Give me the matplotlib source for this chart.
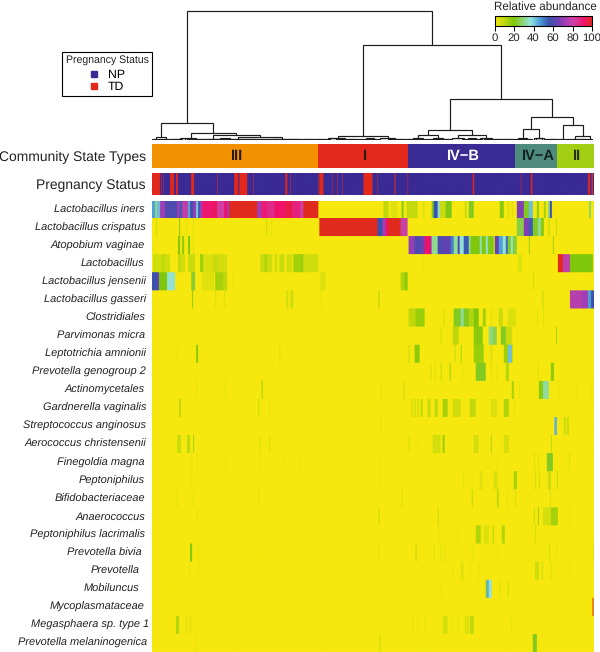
import numpy as np
import matplotlib
matplotlib.use("Agg")
import matplotlib.pyplot as plt
from matplotlib.colors import LinearSegmentedColormap, ListedColormap, Normalize
from matplotlib.cm import ScalarMappable
from matplotlib.lines import Line2D
from matplotlib.transforms import blended_transform_factory

plt.rcParams["font.family"] = ["Liberation Sans", "DejaVu Sans"]
plt.rcParams["text.hinting"] = "no_hinting"

FIG_W, FIG_H = 600, 652
N_SAMPLES = 441
SUB = 2  # image columns per sample, so thin stripes blend like in the print

# Community state types, in sample order
cst_names = ["III", "I", "IV\u2212B", "IV\u2212A", "II"]
cst_sizes = [166, 90, 107, 42, 36]
cst_colors = ["#F39200", "#E2281B", "#3A2A94", "#4E8B7E", "#A3CF12"]
cst_text_colors = ["#2a1a10", "#2a1a10", "white", "#12231f", "#26300a"]

# Samples with pregnancy status TD (everything else is NP)
status_td = [(0, 8), (9, 9.5), (11, 11.5), (18, 22), (24, 26), (39, 42), (65, 65.5),
             (82, 86), (87, 95), (101, 101.5), (133, 135), (138, 138.5), (166, 166.5),
             (167, 171), (180, 180.5), (185, 185.5), (190, 190.5), (211, 220), (225, 225.5),
             (242, 243), (255, 255.5), (320, 321.5), (368, 368.5), (378, 379.5), (435, 437),
             (438.5, 440)]

# Relative abundance per taxon: (first sample, last sample, percent)
lactobacillus_iners = [(0, 3, 46), (3, 5, 30), (5, 8, 42), (8, 13, 72), (13, 25, 60), (25, 28, 70),
                       (28, 30, 55), (30, 36, 78), (36, 38, 45), (38, 41, 58), (41, 44, 70), (44, 46, 40),
                       (46, 48, 55), (48, 50, 72), (50, 60, 91), (60, 65, 93), (65, 72, 82), (72, 75, 92),
                       (75, 77, 72), (77, 105, 100), (105, 109, 72), (109, 115, 90), (115, 122, 86),
                       (122, 133, 92), (133, 140, 95), (140, 148, 88), (148, 151, 82), (151, 166, 100),
                       (231, 236, 10), (238, 245, 4), (249, 251, 22), (254, 265, 9), (270, 272, 4),
                       (279, 281, 22), (281, 285, 56), (285, 287, 38), (287, 293, 8), (293, 299, 21),
                       (312, 314, 8), (316, 321, 22), (347, 351, 18), (355, 356, 8), (359, 360, 6),
                       (364, 371, 68), (371, 376, 22), (376, 380, 42), (384, 386, 18), (391, 393, 14),
                       (395, 397, 30), (397, 399, 56), (436, 438, 28)]
lactobacillus_crispatus = [(4, 5, 8), (27, 28, 18), (34, 35, 4), (41, 42, 4), (114, 115, 8), (119, 120, 3),
                           (167, 225, 100), (225, 230, 56), (230, 233, 72), (233, 236, 93), (236, 248, 100),
                           (248, 255, 80), (364, 371, 25), (371, 376, 68), (376, 380, 55), (380, 385, 22),
                           (385, 388, 32), (388, 391, 18), (395, 397, 6), (403, 404, 8)]
atopobium_vaginae = [(26, 28, 20), (30, 32, 18), (36, 38, 20), (41, 42, 4), (256, 262, 70), (262, 268, 60),
                     (268, 272, 66), (272, 278, 92), (278, 279, 70), (279, 285, 31), (285, 290, 60),
                     (290, 298, 63), (298, 301, 50), (301, 305, 32), (305, 307, 60), (307, 311, 36),
                     (311, 316, 55), (316, 318, 30), (318, 327, 20), (327, 329, 34), (329, 333, 20),
                     (333, 335, 36), (335, 341, 21), (342, 346, 64), (346, 350, 46), (350, 353, 36),
                     (353, 355, 52), (355, 358, 22), (358, 360, 36), (360, 364, 24), (376, 377, 15),
                     (400, 401, 15)]
lactobacillus = [(1, 5, 7), (5, 9, 6), (9, 13, 9), (13, 18, 7), (26, 29, 9), (29, 33, 6), (36, 43, 8),
                 (48, 51, 16), (51, 61, 5), (61, 66, 8), (66, 75, 6), (108, 112, 8), (112, 115, 12), (115, 120, 7),
                 (122, 125, 6), (127, 132, 8), (134, 140, 6), (141, 148, 14), (148, 151, 16), (151, 166, 7),
                 (270, 271, 3), (365, 369, 4), (405, 410, 100), (410, 417, 78), (417, 440, 20)]
lactobacillus_jensenii = [(0, 5, 56), (5, 7, 63), (7, 15, 20), (15, 23, 36), (39, 40, 14), (40, 43, 24),
                          (50, 62, 4), (63, 71, 14), (71, 75, 10), (81, 82, 4), (168, 173, 5), (248, 252, 12),
                          (252, 255, 18), (380, 381, 6)]
lactobacillus_gasseri = [(40, 41, 18), (63, 64, 5), (72, 73, 5), (134, 136, 6), (138, 141, 7), (168, 169, 3),
                         (226, 227, 12), (390, 391, 5), (389, 390, 6), (417, 429, 76), (429, 435, 72),
                         (435, 438, 46), (438, 441, 56)]
clostridiales = [(256, 263, 10), (263, 272, 16), (291, 292, 6), (301, 308, 22), (308, 311, 32), (311, 316, 22),
                 (316, 321, 12), (321, 326, 20), (330, 333, 14), (338, 339, 4), (346, 350, 8), (355, 363, 5),
                 (384, 385, 4), (390, 391, 4)]
parvimonas_micra = [(288, 289, 6), (300, 306, 10), (321, 330, 18), (336, 340, 30), (340, 344, 26),
                    (348, 353, 22), (353, 359, 8), (403, 404, 14), (364, 365, 2)]
leptotrichia_amnionii = [(44, 46, 18), (25, 26, 3), (127, 128, 5), (256, 257, 8), (262, 267, 18), (302, 303, 8),
                         (308, 309, 14), (321, 331, 16), (338, 339, 8), (351, 355, 15), (355, 359, 42),
                         (359, 360, 10)]
prevotella_genogroup_2 = [(278, 279, 5), (282, 283, 5), (288, 289, 10), (297, 298, 16), (310, 311, 3),
                          (323, 333, 22), (338, 339, 4), (344, 345, 4), (353, 356, 12), (385, 386, 4),
                          (398, 401, 18)]
actinomycetales = [(44, 45, 4), (73, 74, 4), (109, 111, 8), (228, 229, 4), (251, 252, 8), (359, 361, 14),
                   (366, 367, 3), (386, 390, 18), (390, 396, 32), (405, 406, 3), (423, 424, 2), (438, 439, 2)]
gardnerella_vaginalis = [(27, 29, 10), (106, 107, 8), (117, 118, 3), (259, 260, 9), (262, 263, 9), (265, 266, 9),
                         (268, 270, 9), (275, 278, 8), (282, 285, 10), (290, 295, 14), (300, 308, 7),
                         (317, 323, 10), (338, 344, 5), (351, 356, 12), (361, 362, 4)]
streptococcus_anginosus = [(228, 229, 3), (401.5, 404, 44), (411, 413, 8), (414, 416, 8)]
aerococcus_christensenii = [(25, 29, 8), (35, 38, 10), (41, 42, 14), (107, 108, 5), (117, 118, 6), (256, 257, 6),
                            (265, 266, 3), (280, 288, 6), (290, 292, 16), (321, 326, 6), (338, 339, 12),
                            (351, 356, 6), (398, 399, 10)]
finegoldia_magna = [(39, 40, 3), (45, 46, 3), (73, 74, 3), (108, 109, 3), (130, 131, 2), (148, 149, 2),
                    (228, 229, 2), (344, 345, 2), (381, 382, 5), (385, 386, 5), (394, 400, 22), (416, 417, 5)]
peptoniphilus = [(39, 40, 2), (228, 229, 2), (310, 311, 4), (327, 330, 4), (341, 345, 5), (361, 364, 14),
                 (382, 383, 7), (386, 387, 7), (395, 398, 8), (404, 405, 10)]
bifidobacteriaceae = [(25, 26, 4), (41, 42, 4), (106, 107, 4), (249, 250, 5), (319, 320, 10), (344, 346, 10),
                      (354, 355, 4), (362, 363, 6), (397, 398, 5)]
anaerococcus = [(45, 46, 3), (226, 227, 8), (285, 286, 8), (381, 382, 8), (385, 386, 16), (390, 398, 6),
                (398, 405, 14), (416, 417, 3)]
peptoniphilus_lacrimalis = [(286, 287, 3), (305, 306, 3), (323, 328, 12), (331, 336, 5), (340, 341, 12),
                            (349, 352, 12), (382, 383, 6)]
prevotella_bivia = [(38, 40, 20), (45, 46, 3), (226, 227, 4), (263, 264, 10), (281, 282, 5), (288, 289, 5),
                    (292, 293, 5), (320, 321, 4), (345, 346, 2), (396, 397, 6), (403, 404, 3), (440, 441, 3)]
prevotella = [(37, 38, 2), (46, 47, 2), (300, 301, 3), (308, 311, 4), (317, 318, 3), (326, 327, 3), (382, 386, 7),
              (389, 390, 8), (398, 399, 5), (416, 417, 2)]
mobiluncus = [(288, 289, 2), (333, 334, 22), (334, 336, 44), (336, 339, 36), (347, 348, 4), (355, 356, 7)]
mycoplasmataceae = [(439.5, 440.5, 100)]
megasphaera_type_1 = [(24, 27, 12), (34, 35, 5), (38, 39, 5), (260, 261, 3), (265, 266, 3), (272, 273, 3),
                      (290, 295, 6), (299, 300, 4), (305, 306, 4), (312, 316, 5), (317, 321, 10), (358, 359, 3)]
prevotella_melaninogenica = [(44, 45, 3), (227, 228, 8), (380, 384, 22)]

taxa = ["Lactobacillus iners", "Lactobacillus crispatus", "Atopobium vaginae", "Lactobacillus",
        "Lactobacillus jensenii", "Lactobacillus gasseri", "Clostridiales", "Parvimonas micra",
        "Leptotrichia amnionii", "Prevotella genogroup 2", "Actinomycetales", "Gardnerella vaginalis",
        "Streptococcus anginosus", "Aerococcus christensenii", "Finegoldia magna", "Peptoniphilus",
        "Bifidobacteriaceae", "Anaerococcus", "Peptoniphilus lacrimalis", "Prevotella bivia", "Prevotella",
        "Mobiluncus", "Mycoplasmataceae", "Megasphaera sp. type 1", "Prevotella melaninogenica"]
taxon_runs = [lactobacillus_iners, lactobacillus_crispatus, atopobium_vaginae, lactobacillus,
              lactobacillus_jensenii, lactobacillus_gasseri, clostridiales, parvimonas_micra,
              leptotrichia_amnionii, prevotella_genogroup_2, actinomycetales, gardnerella_vaginalis,
              streptococcus_anginosus, aerococcus_christensenii, finegoldia_magna, peptoniphilus,
              bifidobacteriaceae, anaerococcus, peptoniphilus_lacrimalis, prevotella_bivia, prevotella,
              mobiluncus, mycoplasmataceae, megasphaera_type_1, prevotella_melaninogenica]

# Dendrogram: merge = (height, left, right), a plain number is a sample
cluster_three = (17,
                 (3, 4, 14),
                 (7,
                  (2, 33, 44),
                  (5,
                   (1.5, 55, 67),
                   (3.5, (1.5, 80, 91), (1.5, 118, 141)))))
cluster_one = (4.5, (2, 178, 193), (2, 228, 243))
cluster_four_b = (10,
                  (5, (2, 261, 271), (2, 281, 291)),
                  (5, (2, 300, 312), (2, 328, 340)))
cluster_rest = (23,
                (11, (2, 366, 375), (2, 382, 392)),
                (15, (1.5, 408, 414), (4, (1, 421, 425), (1, 436, 440))))
tree = (129, cluster_three, (95, cluster_one, (41.5, cluster_four_b, cluster_rest)))

# Small merges near the bottom of the tree
low_merges = [(1.2, 0, 5), (1.5, 6, 13), (0.8, 12, 30), (1.2, 20, 27), (1.6, 28, 35), (1, 36, 50), (1.4, 44, 54),
              (0.8, 50, 75), (1.2, 60, 66), (1.6, 68, 78), (0.9, 75, 100), (1.3, 92, 104), (0.8, 100, 125),
              (1.2, 108, 117), (1.5, 122, 132), (0.9, 128, 150), (1.3, 140, 148), (1.2, 152, 160), (0.8, 150, 178),
              (1.2, 165, 173), (1.6, 176, 184), (0.9, 185, 205), (1.4, 196, 204), (1, 205, 228), (1.6, 214, 222),
              (1, 236, 262), (1.5, 243, 252), (0.8, 255, 268), (1.3, 268, 278), (1, 278, 300), (1.5, 290, 298),
              (1, 310, 330), (1.6, 316, 324), (0.9, 332, 362), (1.5, 342, 350), (1.3, 352, 360), (1, 362, 380),
              (1.5, 372, 378), (1.6, 384, 390), (1, 392, 410), (1.3, 398, 405), (1, 414, 436), (1.4, 426, 434)]

# Legend colour bar ticks and colour stops of the abundance scale
abundance_ticks = [0, 20, 40, 60, 80, 100]
abundance_stops = [(0, "#F6E80E"), (0.09, "#C3DA0C"), (0.2, "#7FC70A"), (0.28, "#8ED468"), (0.37, "#93E3E0"),
                   (0.46, "#4FA0D8"), (0.56, "#3A52AE"), (0.65, "#6A40B2"), (0.72, "#A03FB6"), (0.82, "#D23FA2"),
                   (0.92, "#F0126C"), (1, "#E02A1E")]
abundance_cmap = LinearSegmentedColormap.from_list("abundance", abundance_stops)
abundance_norm = Normalize(0, 100)
status_cmap = ListedColormap(["#3A2A94", "#E2281B"])

# Right end of each row label in pixels, the print does not align them exactly
label_right = [145, 146, 145, 144, 146, 146, 145, 145, 146, 146, 145, 146,
               146, 146, 145, 145, 145, 145, 145, 142, 140, 139, 144, 149, 146.7]


def px_axes(fig, left, top, right, bottom):
    # axes box given in picture pixels, measured from the top left
    ax = fig.add_axes([left / FIG_W, 1 - bottom / FIG_H, (right - left) / FIG_W, (bottom - top) / FIG_H])
    return ax


def runs_to_row(runs, value=None):
    row = np.zeros(N_SAMPLES * SUB)
    for run in runs:
        row[int(run[0] * SUB):int(run[1] * SUB)] = run[2] if value is None else value
    return row


def draw_node(ax, node, color="#1c1c1c", lw=0.85):
    # returns x position and height of the node
    if not isinstance(node, tuple):
        return node, 0.3
    h, left, right = node
    xl, hl = draw_node(ax, left, color, lw)
    xr, hr = draw_node(ax, right, color, lw)
    ax.plot([xl, xl, xr, xr], [hl, h, h, hr], color=color, lw=lw, solid_joinstyle="miter")
    return (xl + xr) / 2, h


fig = plt.figure(figsize=(FIG_W / 100, FIG_H / 100), dpi=100)

# Dendrogram
ax_tree = px_axes(fig, 152, 0, 593, 140)
draw_node(ax_tree, tree)
for merge in low_merges:
    draw_node(ax_tree, merge)
ax_tree.plot([0, 441], [0.4, 0.4], color="#1c1c1c", lw=0.9)
ax_tree.set_xlim(0, N_SAMPLES)
ax_tree.set_ylim(0, 140)
ax_tree.axis("off")

# Community state types band
ax_cst = px_axes(fig, 152, 144, 593.5, 168)
left = 0
for name, size, color, text_color in zip(cst_names, cst_sizes, cst_colors, cst_text_colors):
    ax_cst.barh(0, size, left=left, height=1, color=color, linewidth=0)
    ax_cst.text(left + size / 2 + 1, -0.02, name, ha="center", va="center", fontsize=10.5,
                fontweight="bold", color=text_color)
    left += size
ax_cst.set_xlim(0, N_SAMPLES)
ax_cst.set_ylim(-0.5, 0.5)
ax_cst.set_xticks([])
ax_cst.set_yticks([0], ["Community State Types"], fontsize=10, color="#222222")
ax_cst.tick_params(length=0, pad=4.6)
for spine in ax_cst.spines.values():
    spine.set_visible(False)

# Pregnancy status band
ax_status = px_axes(fig, 152, 173, 593.5, 195.5)
ax_status.imshow(runs_to_row(status_td, value=1)[np.newaxis, :], aspect="auto", cmap=status_cmap, vmin=0, vmax=1,
                 interpolation="hanning", interpolation_stage="rgba", extent=[0, N_SAMPLES, 0, 1])
ax_status.set_xticks([])
ax_status.set_yticks([0.5], ["Pregnancy Status"], fontsize=10, color="#222222")
ax_status.tick_params(length=0, pad=4.6)
for spine in ax_status.spines.values():
    spine.set_visible(False)

# Abundance heatmap
abundance = np.array([runs_to_row(runs) for runs in taxon_runs])
ax_heat = px_axes(fig, 152, 200.7, 593.5, 652)
ax_heat.imshow(np.repeat(abundance, 18, axis=0), aspect="auto", cmap=abundance_cmap, norm=abundance_norm,
               interpolation="hanning", interpolation_stage="rgba", extent=[0, N_SAMPLES, len(taxa), 0])
ax_heat.set_xticks([])
ax_heat.set_yticks([])
label_trans = blended_transform_factory(fig.transFigure, ax_heat.transData)
for row, (name, right) in enumerate(zip(taxa, label_right)):
    ax_heat.text(right / FIG_W, row + 0.5, name, transform=label_trans, ha="right", va="center",
                 fontsize=7.9, fontstyle="italic", color="#222222")
for spine in ax_heat.spines.values():
    spine.set_visible(False)

# Colour key
ax_key = px_axes(fig, 494.5, 15.5, 592, 26)
bar = fig.colorbar(ScalarMappable(abundance_norm, abundance_cmap), cax=ax_key, orientation="horizontal")
bar.set_ticks(abundance_ticks)
bar.ax.tick_params(labelsize=8.2, length=3.5, width=0.7, pad=1.5, labelcolor="#222222")
bar.outline.set_linewidth(0.8)
fig.text(545 / FIG_W, 1 - 6.5 / FIG_H, "Relative abundance", ha="center", va="center", fontsize=8.4, color="#222222")

# Status legend
handles = [Line2D([], [], linestyle="", marker="s", markersize=4.8, color=c) for c in status_cmap.colors]
legend = fig.legend(handles, ["NP", "TD"], title="Pregnancy Status", title_fontsize=7.6, fontsize=8.8,
                    loc="upper left", bbox_to_anchor=(62 / FIG_W, 1 - 51.5 / FIG_H), frameon=True, fancybox=False,
                    edgecolor="black", framealpha=1, borderpad=0.3, labelspacing=0.05, handletextpad=0.7,
                    handlelength=0.8, borderaxespad=0)
legend._legend_box.sep = 3
legend.get_frame().set_linewidth(0.8)
legend.get_title().set_color("#222222")

fig.savefig("out.png", dpi=100)
